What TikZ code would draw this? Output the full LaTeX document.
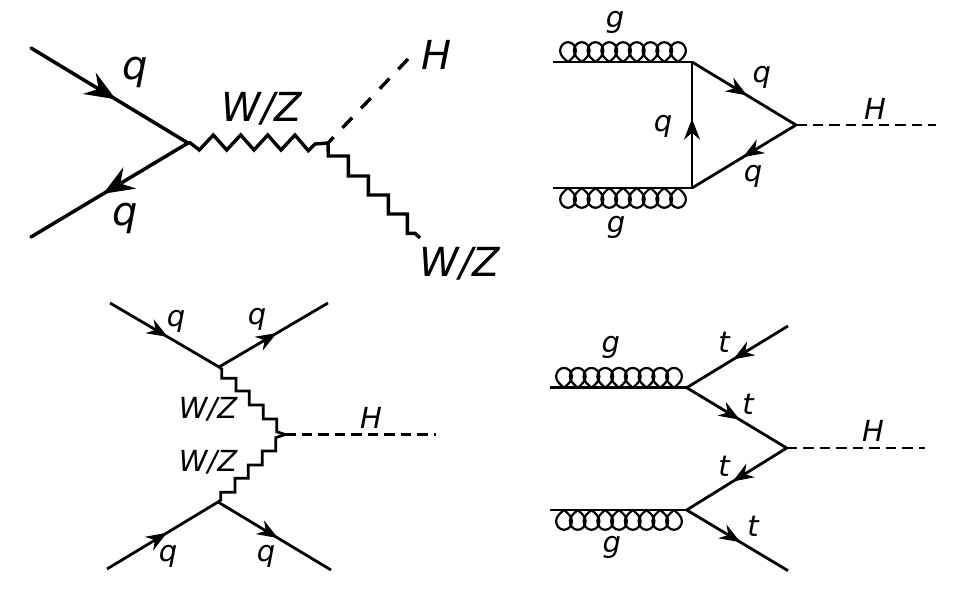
\documentclass[tikz,border=0pt]{standalone}
\usepackage{fontspec}
\setmainfont{DejaVu Sans}
\usetikzlibrary{arrows.meta,decorations.markings}
\tikzset{
  big/.style={line width=3.5pt,line cap=round,line join=miter},
  small/.style={line width=2.8pt,line join=miter},
  fermbig/.style={big,postaction={decorate,decoration={markings,mark=at position #1 with {\arrow[line width=1.4pt]{Stealth[length=31pt,width=25pt,inset=11pt]}}}}},
  fermsmall/.style={small,postaction={decorate,decoration={markings,mark=at position #1 with {\arrow[line width=1pt]{Stealth[length=21pt,width=16pt,inset=7pt]}}}}},
  higgs/.style={small,dash pattern=on 10.5pt off 6pt},
  wiggle/.style={small,line cap=butt},
  lbig/.style={anchor=base,inner sep=0pt,font=\fontsize{40}{44}\selectfont\itshape},
  lsmall/.style={anchor=base,inner sep=0pt,font=\fontsize{29}{32}\selectfont\itshape},
  coilup/.pic={
    \foreach \c in {0,13.75,...,110.1}{
      \draw[line width=2.2pt] (\c,0) .. controls (\c+3.5,-3) and (\c+7.9,-6.5) .. (\c+7.9,-11)
        .. controls (\c+7.9,-15.8) and (\c+4.5,-19.8) .. (\c,-19.8)
        .. controls (\c-4.5,-19.8) and (\c-7.9,-15.8) .. (\c-7.9,-11)
        .. controls (\c-7.9,-6.5) and (\c-3.5,-3) .. (\c,0);
    }
  },
}
\begin{document}
\begin{tikzpicture}[x=1pt,y=-1pt]
\useasboundingbox[fill=white] (0,0) rectangle (960,589);

% ---- Diagram A
\coordinate (a1) at (31,48);
\coordinate (a2) at (31,237);
\coordinate (a3) at (188,143);
\coordinate (a4) at (328,143);
\coordinate (a5) at (409,58);
\coordinate (a6) at (420,238);
\draw[fermbig=.54] (a1) -- (a3);
\draw[fermbig=.54] (a3) -- (a2);
\draw[big,line width=3.4pt,line cap=butt] (a3) -- (190,142.7) -- (199.3,150) -- (213.3,135) -- (226.7,150) -- (240.7,135) -- (254,150) -- (267.7,135) -- (281,150) -- (295,135) -- (308.3,150.7) -- (315,144) -- (a4);
\draw[big,line cap=butt,line width=3.4pt] (a4) -- (328.3,156) -- (348.3,156) -- (348.3,176) -- (368.3,176) -- (368.3,195) -- (388.3,195) -- (388.3,214) -- (407.3,214) -- (407.3,233.3) -- (415,233.3) -- (a6);
\draw[big,line cap=butt,line width=3.4pt,dash pattern=on 14pt off 13pt,dash phase=6pt] (a4) -- (a5);
\node[lbig] (tq1) at (135,79) {q};
\node[lbig] (tq2) at (125,225) {q};
\node[lbig] (twz1) at (262,121.7) {W/Z};
\node[lbig] (tH1) at (436.7,69.3) {H};
\node[lbig] (twz2) at (460,276) {W/Z};

% ---- Diagram B
\coordinate (b1) at (553,62);
\coordinate (b2) at (692,62);
\coordinate (b3) at (553,188);
\coordinate (b4) at (692,188);
\coordinate (b5) at (796,125);
\coordinate (b6) at (936,125);
\draw[small] (b1) -- (b2);
\draw[small] (b3) -- (b4);
\pic at (568,62) {coilup};
\pic[yscale=-1] at (568,188) {coilup};
\draw[fermsmall=.53] (b2) -- (b5);
\draw[fermsmall=.51] (b5) -- (b4);
\draw[fermsmall=.55] (b4) -- (b2);
\draw[higgs] (b5) -- (b6);
\node[lsmall] (bg1) at (615,27.5) {g};
\node[lsmall] (bg2) at (616,232.5) {g};
\node[lsmall] (bq1) at (761.7,82.5) {q};
\node[lsmall] (bq2) at (663,131) {q};
\node[lsmall] (bq3) at (753,181) {q};
\node[lsmall] (bH) at (875,119) {H};

% ---- Diagram C
\coordinate (c1) at (110,303);
\coordinate (c2) at (328,303);
\coordinate (c3) at (219,367);
\coordinate (c4) at (218,502);
\coordinate (c5) at (107,569);
\coordinate (c6) at (331,570);
\coordinate (c7) at (285,434.5);
\coordinate (c8) at (436,434.5);
\draw[fermsmall=.53] (c1) -- (c3);
\draw[fermsmall=.53] (c3) -- (c2);
\draw[fermsmall=.54] (c5) -- (c4);
\draw[fermsmall=.53] (c4) -- (c6);
\draw[wiggle] (c3) -- (221.7,369) -- (221.7,378.3) -- (236,378.3) -- (236,391) -- (249.3,391) -- (249.3,405) -- (263.3,405) -- (263.3,419) -- (276.7,419) -- (276.7,431.7) -- (c7);
\draw[wiggle] (c4) -- (220.7,500) -- (220.7,492.3) -- (235,492.3) -- (235,478.3) -- (248.3,478.3) -- (248.3,465) -- (262.3,465) -- (262.3,451) -- (275.7,451) -- (275.7,437.7) -- (c7);
\draw[higgs] (c7) -- (c8);
\node[lsmall] (cq1) at (176,326) {q};
\node[lsmall] (cq2) at (257,324) {q};
\node[lsmall] (cwz1) at (208,418) {W/Z};
\node[lsmall] (cwz2) at (208,471.7) {W/Z};
\node[lsmall] (cq3) at (168,561) {q};
\node[lsmall] (cq4) at (266,561) {q};
\node[lsmall] (cH) at (371,428) {H};

% ---- Diagram D
\coordinate (d1) at (550,387.7);
\coordinate (d2) at (686.7,387.7);
\coordinate (d3) at (550,510);
\coordinate (d4) at (686.7,510);
\coordinate (d5) at (788,326);
\coordinate (d6) at (786.7,448);
\coordinate (d7) at (788,570.7);
\coordinate (d8) at (925,448);
\draw[small] (d1) -- (d2);
\draw[small] (d3) -- (d4);
\pic at (564,387.7) {coilup};
\pic[yscale=-1] at (564,510) {coilup};
\draw[fermsmall=.54] (d5) -- (d2);
\draw[fermsmall=.53] (d2) -- (d6);
\draw[fermsmall=.54] (d6) -- (d4);
\draw[fermsmall=.53] (d4) -- (d7);
\draw[higgs] (d6) -- (d8);
\node[lsmall] (dg1) at (610.7,352.5) {g};
\node[lsmall] (dt1) at (724,352.7) {t};
\node[lsmall] (dt2) at (748,414) {t};
\node[lsmall] (dt3) at (724,476.7) {t};
\node[lsmall] (dt4) at (753,536.7) {t};
\node[lsmall] (dg2) at (611.7,552.5) {g};
\node[lsmall] (dH) at (873,441) {H};
\end{tikzpicture}
\end{document}
